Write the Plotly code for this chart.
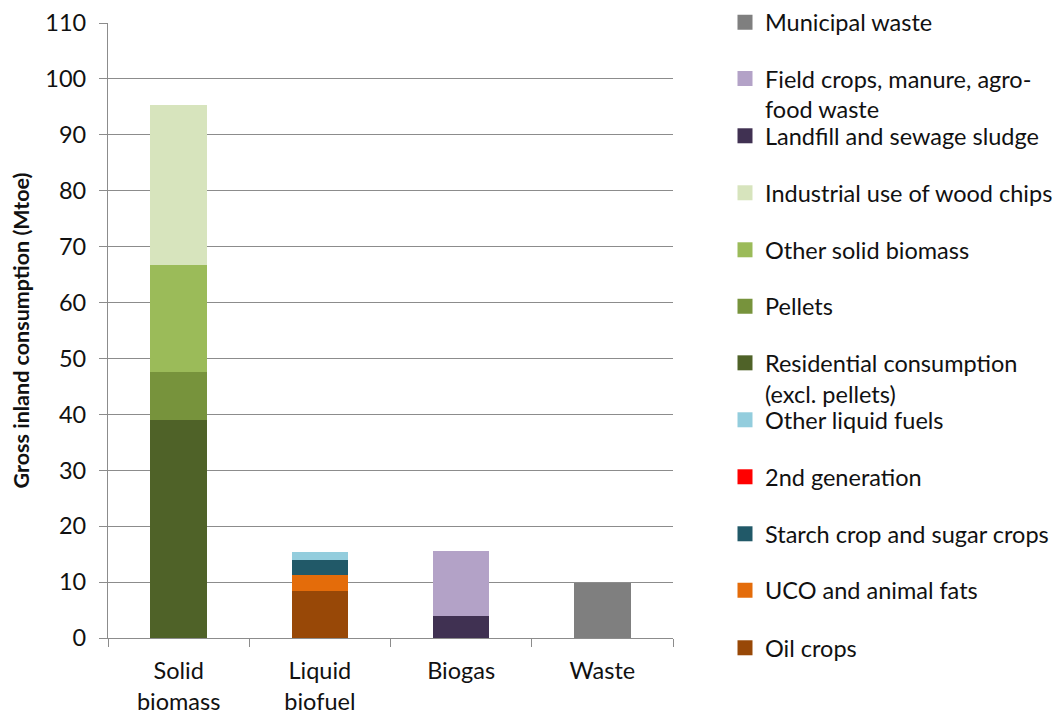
import plotly.graph_objects as go

categories = ["Solid<br>biomass", "Liquid<br>biofuel", "Biogas", "Waste"]

# series values per category (Mtoe); None = not part of this category
series_names = [
    "Oil crops", "UCO and animal fats", "Starch crop and sugar crops", "2nd generation",
    "Other liquid fuels", "Residential consumption<br>(excl. pellets)", "Pellets",
    "Other solid biomass", "Industrial use of wood chips", "Landfill and sewage sludge",
    "Field crops, manure, agro-<br>food waste", "Municipal waste",
]
oil_crops = [None, 8.45, None, None]
uco = [None, 2.85, None, None]
starch = [None, 2.7, None, None]
second_gen = [None, None, None, None]
other_liquid = [None, 1.45, None, None]
residential = [39.05, None, None, None]
pellets = [8.6, None, None, None]
other_solid = [19.1, None, None, None]
industrial = [28.5, None, None, None]
landfill = [None, None, 3.9, None]
field_crops = [None, None, 11.75, None]
municipal = [None, None, None, 9.8]

series_values = [oil_crops, uco, starch, second_gen, other_liquid, residential, pellets,
                 other_solid, industrial, landfill, field_crops, municipal]
colors = ["#984807", "#e46c0a", "#215968", "#ff0000", "#93cddd", "#4f6228", "#77933c",
          "#9bbb59", "#d7e4bd", "#403152", "#b3a2c7", "#7f7f7f"]

legend_order = ["Municipal waste", "Field crops, manure, agro-<br>food waste",
                "Landfill and sewage sludge", "Industrial use of wood chips",
                "Other solid biomass", "Pellets", "Residential consumption<br>(excl. pellets)",
                "Other liquid fuels", "2nd generation", "Starch crop and sugar crops",
                "UCO and animal fats", "Oil crops"]
legend_centers = [22.5, 79, 136, 193, 250, 306.5, 363.3, 420, 477, 534, 590.5, 648]

OFF = 8  # page body margin
W, H = 1061 - OFF, 714 - OFF
FONT = "Lato"
FS = 23.5
LINE_H = 30.5

fig = go.Figure()
layout_legends = {}
for name, vals, col in zip(series_names, series_values, colors):
    idx = legend_order.index(name)
    key = "legend" if idx == 0 else f"legend{idx + 1}"
    fig.add_trace(go.Bar(
        x=categories, y=vals, name=name,
        marker=dict(color=col, line=dict(width=0)),
        showlegend=False, hoverinfo="name+y",
    ))
    # legend-only entry with a 15px square swatch
    fig.add_trace(go.Scatter(
        x=[None], y=[None], mode="markers", name=name,
        marker=dict(symbol="square", size=15, color=col),
        legend=key, hoverinfo="skip",
    ))
    nlines = name.count("<br>") + 1
    cy = legend_centers[idx] + (nlines - 1) * LINE_H / 2
    layout_legends[key] = dict(
        x=(725 - OFF) / W, xref="container", xanchor="left",
        y=1 - (cy - OFF) / H, yref="container", yanchor="middle",
        font=dict(family=FONT, size=FS, color="#111111"),
        bgcolor="rgba(0,0,0,0)", borderwidth=0, valign="top",
        itemclick=False, itemdoubleclick=False,
    )

fig.update_layout(
    width=W, height=H,
    barmode="stack", bargap=0.6,
    plot_bgcolor="white", paper_bgcolor="white",
    margin=dict(l=108 - OFF, r=388, t=23 - OFF, b=76, autoexpand=False),
    font=dict(family=FONT, size=FS, color="#111111"),
    showlegend=True,
    **layout_legends,
)
fig.update_yaxes(
    range=[0, 110], dtick=10, tick0=0,
    showgrid=True, gridcolor="#8c8c8c", gridwidth=1.3,
    showline=True, linecolor="#8c8c8c", linewidth=1.3,
    ticks="outside", ticklen=8, tickcolor="#8c8c8c", tickwidth=1.3,
    ticklabelstandoff=8,
    zeroline=False,
    tickfont=dict(family=FONT, size=FS, color="#111111"),
    title=dict(text="<b>Gross inland consumption (Mtoe)</b>",
               font=dict(family=FONT, size=21.5, color="#111111"), standoff=10),
)
fig.update_xaxes(
    showline=True, linecolor="#8c8c8c", linewidth=1.3,
    ticks="outside", ticklen=8, tickcolor="#8c8c8c", tickwidth=1.3,
    tickson="boundaries", showgrid=False, ticklabelstandoff=12,
    tickfont=dict(family=FONT, size=FS, color="#111111"),
)

fig.write_html("out.html")
